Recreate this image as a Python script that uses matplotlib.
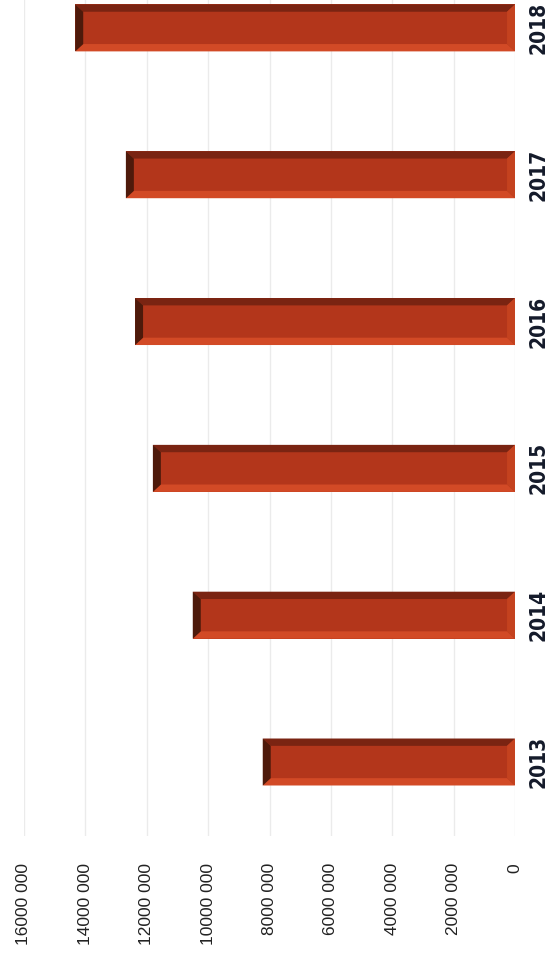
import numpy as np
import matplotlib
matplotlib.use("Agg")
from matplotlib import pyplot as plt
from matplotlib.patches import Polygon
from matplotlib.ticker import FuncFormatter, MultipleLocator

years = ["2013", "2014", "2015", "2016", "2017", "2018"]
values = [8220000, 10500000, 11800000, 12380000, 12680000, 14330000]

fig = plt.figure(figsize=(5.5, 9.61), dpi=100)
ax = fig.add_axes([24 / 550, 125 / 961, 491 / 550, 836 / 961])

pos = np.arange(len(years))
h = 0.16      # half bar thickness
dx = 0.26e6   # bevel width along the value axis
dy = 0.05     # bevel width across the bar

bars = ax.barh(pos, values, height=2 * h, color="#b3361b", zorder=2)

for c, v in zip(pos, values):
    top = [(0, c + h), (v, c + h), (v - dx, c + h - dy), (dx, c + h - dy)]
    bottom = [(0, c - h), (v, c - h), (v - dx, c - h + dy), (dx, c - h + dy)]
    left_end = [(v, c + h), (v, c - h), (v - dx, c - h + dy), (v - dx, c + h - dy)]
    right_end = [(0, c + h), (0, c - h), (dx, c - h + dy), (dx, c + h - dy)]
    ax.add_patch(Polygon(top, closed=True, color="#7a2412", lw=0, zorder=3))
    ax.add_patch(Polygon(bottom, closed=True, color="#d24a26", lw=0, zorder=3))
    ax.add_patch(Polygon(right_end, closed=True, color="#c4421f", lw=0, zorder=3))
    ax.add_patch(Polygon(left_end, closed=True, color="#4e1a0b", lw=0, zorder=4))

ax.set_xlim(16000000, 0)
ax.set_ylim(-0.504, 5.19)

ax.xaxis.set_major_locator(MultipleLocator(2000000))
ax.xaxis.set_major_formatter(FuncFormatter(lambda x, p: "0" if x == 0 else "{} 000".format(int(x) // 1000)))
ax.grid(axis="x", color="#ebebeb", linewidth=1, zorder=0)
ax.tick_params(axis="x", length=0, pad=19.5, labelrotation=90, labelsize=12.5, labelcolor="#222222")
for lab in ax.get_xticklabels():
    lab.set_family(["Liberation Sans", "DejaVu Sans"])

ax.set_yticks(pos)
ax.set_yticklabels(years)
ax.yaxis.tick_right()
ax.tick_params(axis="y", length=0, pad=10, labelrotation=90, labelsize=15, labelcolor="#141a2a")
for lab in ax.get_yticklabels():
    lab.set_family("DejaVu Sans")
    lab.set_fontstretch("condensed")
    lab.set_fontweight("bold")
    lab.set_va("center")

for s in ax.spines.values():
    s.set_visible(False)

fig.savefig("out.png", dpi=100)
